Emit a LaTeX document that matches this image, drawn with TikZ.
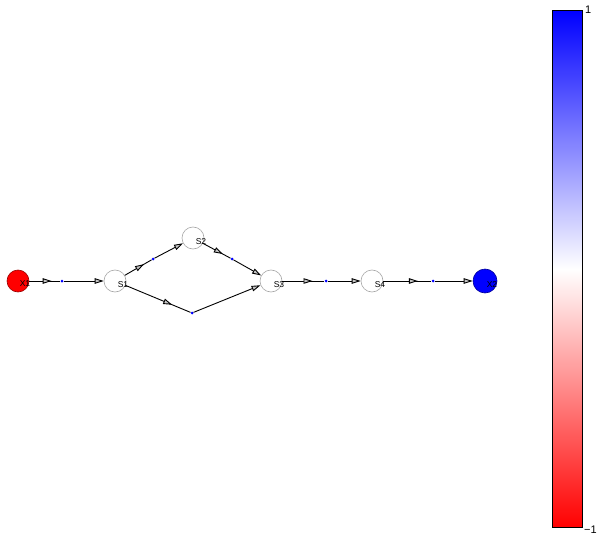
\documentclass[tikz,border=0pt]{standalone}
\usepackage{fontspec}
\setmainfont{Liberation Sans}
\usetikzlibrary{arrows.meta,decorations.markings}

\begin{document}
\begin{tikzpicture}%
        [x=1pt,
        y=-1pt,
        state/.style={circle,draw=gray!70,fill=white,line width=0.6pt,minimum size=22pt,inner sep=0pt},
        lbl/.style={font=\fontsize{8.5}{9}\selectfont,text=black,inner sep=0pt},
        dot/.style={circle,fill=blue,inner sep=0pt,minimum size=3pt},
        tip/.style={-{Triangle[length=9pt,width=5.5pt,open,fill=gray!45]}},
        edge/.style={color=black,line width=0.9pt},
        midarrow/.style={postaction={decorate},decoration={markings,
            mark=at position 0.72 with {\arrow{Triangle[length=9pt,width=5.5pt,fill=gray!45]}}}}]

    \useasboundingbox (0,0) rectangle (601,537);
    %% Drawing the states
    \node[state,fill=red,draw=red!60!black,label={[lbl,xshift=7pt,yshift=-3pt]center:X1}] (x1) at (18,281) {};
    \node[state,label={[lbl,xshift=8pt,yshift=-3.5pt]center:S1}] (s1) at (115,281) {};
    \node[state,label={[lbl,xshift=8pt,yshift=-3.5pt]center:S2}] (s2) at (193,238) {};
    \node[state,label={[lbl,xshift=8pt,yshift=-3.5pt]center:S3}] (s3) at (271,281) {};
    \node[state,label={[lbl,xshift=8pt,yshift=-3.5pt]center:S4}] (s4) at (372,281) {};
    \node[state,fill=blue,draw=blue!60!black,minimum size=24pt,label={[lbl,xshift=7pt,yshift=-3.5pt]center:X2}] (x2) at (485,281) {};
    %% Drawing the reaction points
    \node[dot] (r1) at (62,281) {};
    \node[dot] (r2) at (153,259) {};
    \node[dot] (r3) at (232,259) {};
    \node[dot] (r4) at (192,313) {};
    \node[dot] (r5) at (326,281) {};
    \node[dot] (r6) at (433,281) {};
    %% Drawing the edges
    \draw[edge,midarrow] (x1) -- (r1);
    \draw[edge,tip] (r1) -- (s1);
    \draw[edge,midarrow] (s1) -- (r2);
    \draw[edge,tip] (r2) -- (s2);
    \draw[edge,midarrow] (s2) -- (r3);
    \draw[edge,tip] (r3) -- (s3);
    \draw[edge,midarrow] (s1) -- (r4);
    \draw[edge,tip] (r4) -- (s3);
    \draw[edge,midarrow] (s3) -- (r5);
    \draw[edge,tip] (r5) -- (s4);
    \draw[edge,midarrow] (s4) -- (r6);
    \draw[edge,tip] (r6) -- (x2);
    %% Colour bar
    \shade[top color=blue,bottom color=red,middle color=white] (552,10.7) rectangle (582.5,527.7);
    \draw[black,line width=1pt] (552,10.7) rectangle (582.5,527.7);
    \node[font=\fontsize{11}{12}\selectfont,anchor=west,inner sep=0pt] (top) at (585,10) {1};
    \node[font=\fontsize{11}{12}\selectfont,anchor=west,inner sep=0pt] (bottom) at (584,530) {−1};
\end{tikzpicture}
\end{document}
